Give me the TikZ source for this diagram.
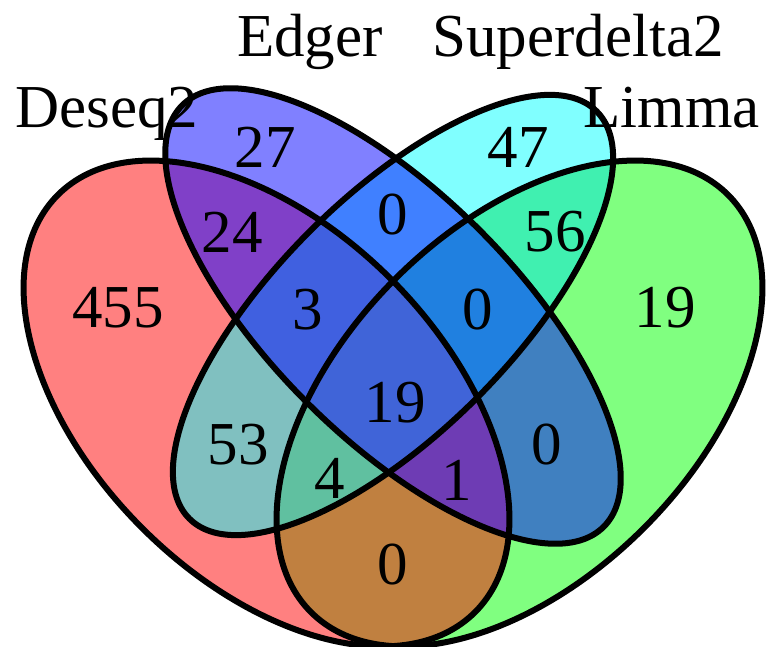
\documentclass[tikz,border=0pt]{standalone}
\usepackage{fontspec}
\setmainfont{Liberation Serif}
\definecolor{cD}{HTML}{FF8080}
\definecolor{cE}{HTML}{8080FF}
\definecolor{cS}{HTML}{80FFFF}
\definecolor{cL}{HTML}{80FF80}
\definecolor{cDE}{HTML}{8040C8}
\definecolor{cDS}{HTML}{80C0C0}
\definecolor{cDL}{HTML}{C08040}
\definecolor{cES}{HTML}{4080FF}
\definecolor{cEL}{HTML}{4080C0}
\definecolor{cSL}{HTML}{40F0B0}
\definecolor{cDES}{HTML}{4060E0}
\definecolor{cDEL}{HTML}{6E3CB4}
\definecolor{cDSL}{HTML}{60C0A0}
\definecolor{cESL}{HTML}{2080E0}
\definecolor{cDESL}{HTML}{4064D8}
\tikzset{
  sD/.style={shift={(266.5,243.5)},rotate=-45},
  sE/.style={shift={(393,331)},rotate=-45},
  sS/.style={shift={(393,332)},rotate=45},
  sL/.style={shift={(519.5,243.5)},rotate=45},
  lab/.style={inner sep=0pt, font=\fontsize{61}{61}\selectfont},
  num/.style={inner sep=0pt, font=\fontsize{61}{61}\selectfont},
  outline/.style={draw=black, line width=6pt}
}
\newcommand\vclipD{\clip[sD] (0,0) ellipse [x radius=295, y radius=176];}
\newcommand\vclipE{\clip[sE] (0,0) ellipse [x radius=298, y radius=122];}
\newcommand\vclipS{\clip[sS] (0,0) ellipse [x radius=288, y radius=118];}
\newcommand\vclipL{\clip[sL] (0,0) ellipse [x radius=295, y radius=176];}
\newcommand\vreg[2]{\begin{scope}#1\fill[#2] (0,0) rectangle (772,647);\end{scope}}
\begin{document}
\begin{tikzpicture}[x=1pt,y=1pt]
\useasboundingbox (0,0) rectangle (772,647);
% singles
\vreg{\vclipD}{cD}
\vreg{\vclipE}{cE}
\vreg{\vclipS}{cS}
\vreg{\vclipL}{cL}
% pairs
\vreg{\vclipD\vclipE}{cDE}
\vreg{\vclipD\vclipS}{cDS}
\vreg{\vclipD\vclipL}{cDL}
\vreg{\vclipE\vclipS}{cES}
\vreg{\vclipE\vclipL}{cEL}
\vreg{\vclipS\vclipL}{cSL}
% triples
\vreg{\vclipD\vclipE\vclipS}{cDES}
\vreg{\vclipD\vclipE\vclipL}{cDEL}
\vreg{\vclipD\vclipS\vclipL}{cDSL}
\vreg{\vclipE\vclipS\vclipL}{cESL}
% all
\vreg{\vclipD\vclipE\vclipS\vclipL}{cDESL}
% outlines
\draw[outline, sD] (0,0) ellipse [x radius=295, y radius=176];
\draw[outline, sE] (0,0) ellipse [x radius=298, y radius=122];
\draw[outline, sS] (0,0) ellipse [x radius=288, y radius=118];
\draw[outline, sL] (0,0) ellipse [x radius=295, y radius=176];
% set labels
\node[lab, anchor=base west] (tE) at (237,590) {Edger};
\node[lab, anchor=base west] (tS) at (432,590) {Superdelta2};
\node[lab, anchor=base west] (tD) at (15,519) {Deseq2};
\node[lab, anchor=base east] (tL) at (760,519) {Limma};
% counts
\node[num] (n27) at (265,500) {27};
\node[num] (n47) at (518,500) {47};
\node[num] (nES) at (393,432) {0};
\node[num] (n24) at (232,415) {24};
\node[num] (n56) at (555,415) {56};
\node[num] (n455) at (118,339) {455};
\node[num] (n3) at (308,337) {3};
\node[num] (nESL) at (478,337) {0};
\node[num] (n19L) at (665,339) {19};
\node[num] (n19) at (395,244) {19};
\node[num] (n53) at (238,202) {53};
\node[num] (nEL) at (547,202) {0};
\node[num] (n4) at (330,169) {4};
\node[num] (n1) at (457,167) {1};
\node[num] (nDL) at (393,82) {0};
\end{tikzpicture}
\end{document}
